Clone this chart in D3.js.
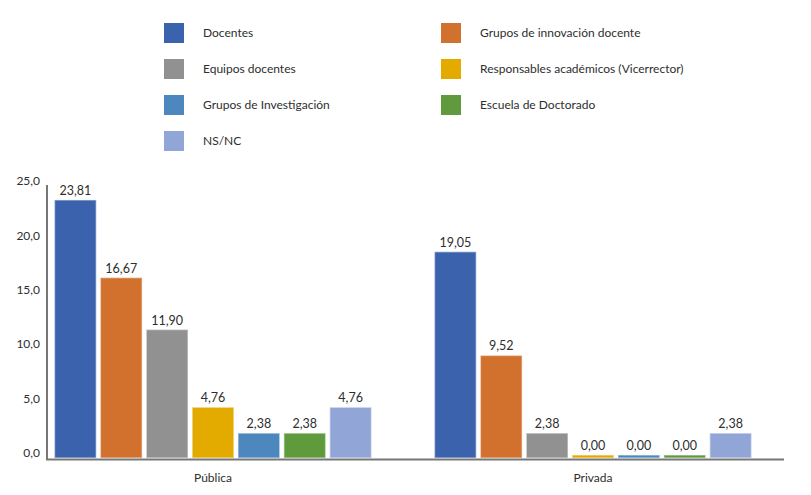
<!DOCTYPE html>
<html>
<head>
<meta charset="utf-8">
<script src="https://cdn.jsdelivr.net/npm/d3@7"></script>
<style>
  body { margin: 0; background: #fff; }
  text { font-family: Lato, "Open Sans", sans-serif; fill: #2e2e2e; }
</style>
</head>
<body>
<div id="chart"></div>
<script>
// Data
const groups = ["Pública", "Privada"];
const series = ["Docentes", "Grupos de innovación docente", "Equipos docentes",
  "Responsables académicos (Vicerrector)", "Grupos de Investigación",
  "Escuela de Doctorado", "NS/NC"];
const publica = [23.81, 16.67, 11.90, 4.76, 2.38, 2.38, 4.76];
const privada = [19.05, 9.52, 2.38, 0.00, 0.00, 0.00, 2.38];
const yTicks = [0, 5, 10, 15, 20, 25];
const colors = ["#3a62ad", "#d2702d", "#919191", "#e3aa00", "#4c88be", "#5f9a3c", "#91a6d6"];

// Legend order (two columns, row by row)
const legendOrder = [0, 1, 2, 3, 4, 5, 6];

const width = 811, height = 495;
const locale = d3.formatLocale({ decimal: ",", thousands: ".", grouping: [3], currency: ["", "€"] });
const fmt1 = locale.format(".1f"), fmt2 = locale.format(".2f");

const svg = d3.select("#chart").append("svg")
  .attr("width", width)
  .attr("height", height);

const y = d3.scaleLinear().domain([0, 25]).range([459, 187]);
const x0 = d3.scaleBand().domain(groups).range([23, 783]);
const x1 = d3.scaleBand().domain(series).range([0, 317]).paddingInner(0.09);

// Legend
const legend = svg.append("g")
  .selectAll("g")
  .data(legendOrder)
  .enter().append("g")
  .attr("transform", (d, i) => "translate(" + (i % 2 ? 441 : 164) + "," + (33 + Math.floor(i / 2) * 36) + ")");

legend.append("rect")
  .attr("x", 0).attr("y", -10)
  .attr("width", 20).attr("height", 20)
  .attr("fill", d => colors[d]);

legend.append("text")
  .attr("x", 39)
  .attr("dy", ".35em")
  .style("font-size", "12px")
  .text(d => series[d]);

// Y axis labels
svg.append("g").selectAll("text")
  .data(yTicks)
  .enter().append("text")
  .attr("x", 40)
  .attr("y", d => y(d) - 6)
  .attr("dy", ".35em")
  .attr("text-anchor", "end")
  .style("font-size", "12px")
  .text(d => fmt1(d));

// Bars
const values = { "Pública": publica, "Privada": privada };
const groupG = svg.selectAll(".group")
  .data(groups)
  .enter().append("g")
  .attr("class", "group")
  .attr("transform", d => "translate(" + (x0(d) + (x0.bandwidth() - 317) / 2) + ",0)");

const bars = groupG.selectAll(".bar")
  .data(g => values[g].map((v, i) => ({ key: series[i], value: v, i: i })))
  .enter();

bars.append("rect")
  .attr("class", "bar")
  .attr("x", d => x1(d.key))
  .attr("width", x1.bandwidth())
  .attr("y", d => Math.min(y(d.value), y(0) - 4))
  .attr("height", d => Math.max(y(0) - y(d.value), 4) - 1)
  .attr("fill", d => colors[d.i])
  .attr("stroke", "#fff")
  .attr("stroke-opacity", 0.45)
  .attr("stroke-width", 1.5);

bars.append("text")
  .attr("x", d => x1(d.key) + x1.bandwidth() / 2)
  .attr("y", d => Math.min(y(d.value), y(0) - 4) - 5)
  .attr("text-anchor", "middle")
  .style("font-size", "12.5px")
  .text(d => fmt2(d.value));

// Axis lines
svg.append("line")
  .attr("x1", 47).attr("x2", 47)
  .attr("y1", 185).attr("y2", 460)
  .attr("stroke", "#777").attr("stroke-width", 2);

svg.append("line")
  .attr("x1", 46).attr("x2", 784)
  .attr("y1", 459.5).attr("y2", 459.5)
  .attr("stroke", "#777").attr("stroke-width", 2);

// Group labels
svg.append("g").selectAll("text")
  .data(groups)
  .enter().append("text")
  .attr("x", d => x0(d) + x0.bandwidth() / 2)
  .attr("y", 478)
  .attr("dy", ".35em")
  .attr("text-anchor", "middle")
  .style("font-size", "12px")
  .text(d => d);
</script>
</body>
</html>
